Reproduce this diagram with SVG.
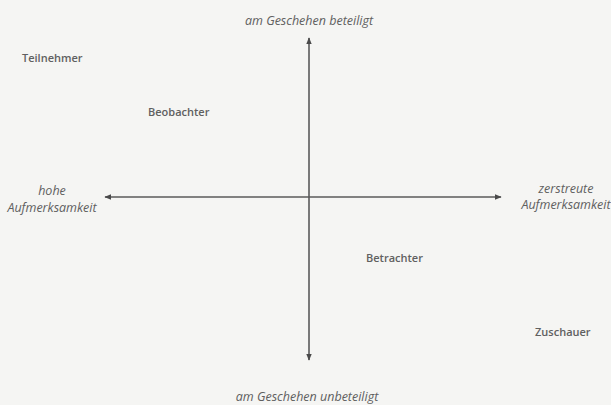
<svg xmlns="http://www.w3.org/2000/svg" width="611" height="405" viewBox="0 0 611 405">
<style>
.lbl{font-family:"Open Sans","Noto Sans","Liberation Sans",sans-serif;font-size:11px;fill:#606060;font-weight:600}
.ax{font-family:"Open Sans","Noto Sans","Liberation Sans",sans-serif;font-size:12.5px;fill:#606060;font-style:italic}
.line{stroke:#5a5a5a;stroke-width:1.6;fill:none}
</style>
<defs>
<marker id="arr" viewBox="0 0 10 10" refX="9" refY="5" markerWidth="7" markerHeight="7" markerUnits="userSpaceOnUse" orient="auto">
<path d="M0,1 L10,5 L0,9 Z" fill="#4a4a4a"/>
</marker>
</defs>
<rect width="611" height="405" fill="#f5f5f3"/>
<g id="connectors">
<line class="line" x1="309" y1="197" x2="309" y2="38" marker-end="url(#arr)"/>
<line class="line" x1="309" y1="197" x2="309" y2="360" marker-end="url(#arr)"/>
<line class="line" x1="309" y1="197" x2="105" y2="197" marker-end="url(#arr)"/>
<line class="line" x1="309" y1="197" x2="501" y2="197" marker-end="url(#arr)"/>
</g>
<g id="top"><text class="ax" x="309" y="25" text-anchor="middle">am Geschehen beteiligt</text></g>
<g id="bottom"><text class="ax" x="307" y="401" text-anchor="middle">am Geschehen unbeteiligt</text></g>
<g id="left"><text class="ax" x="52" y="195" text-anchor="middle">hohe</text><text class="ax" x="52" y="212" text-anchor="middle">Aufmerksamkeit</text></g>
<g id="right"><text class="ax" x="566" y="193" text-anchor="middle">zerstreute</text><text class="ax" x="566" y="209" text-anchor="middle">Aufmerksamkeit</text></g>
<g id="teilnehmer"><text class="lbl" x="22" y="62">Teilnehmer</text></g>
<g id="beobachter"><text class="lbl" x="148" y="116">Beobachter</text></g>
<g id="betrachter"><text class="lbl" x="366" y="262">Betrachter</text></g>
<g id="zuschauer"><text class="lbl" x="535" y="336">Zuschauer</text></g>
</svg>
